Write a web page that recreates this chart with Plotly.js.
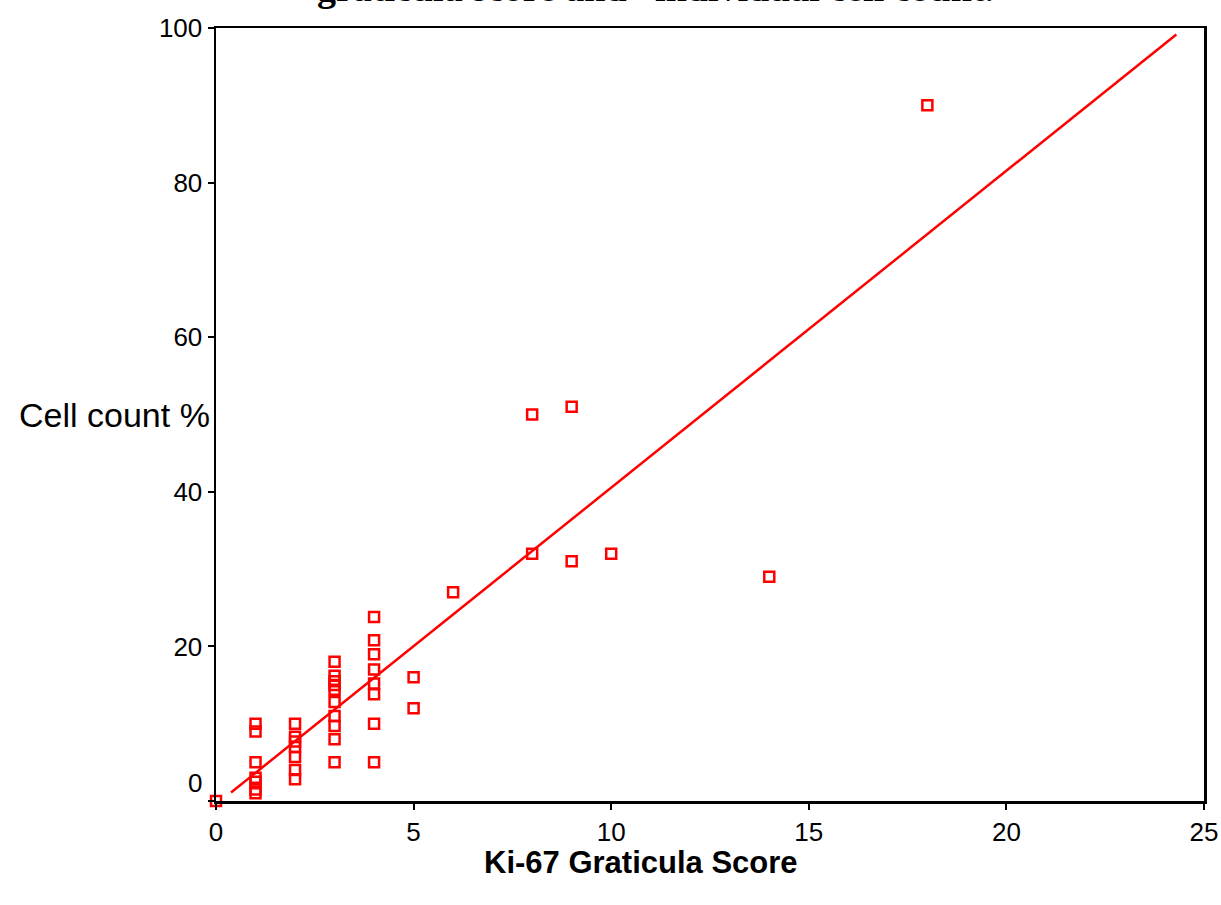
<!DOCTYPE html>
<html>
<head>
<meta charset="utf-8">
<script src="https://cdn.plot.ly/plotly-3.0.1.min.js"></script>
<style>html,body{margin:0;padding:0;background:#fff;}#chart{width:1221px;height:905px;}</style>
</head>
<body>
<div id="chart"></div>
<script>
// Ki-67 graticula score (x) vs individual cell count % (y)
const graticulaScore = [0,
  1,1,1,1,1,1,1,
  2,2,2,2,2,2,2,
  3,3,3,3,3,3,3,3,3,3,
  4,4,4,4,4,4,4,4,
  5,5,
  6,
  8,8,
  9,9,
  10,
  14,
  18];
const cellCountPct = [0,
  10,9,5,3,2.5,1.5,1,
  10,8.3,7.7,7,5.7,4,2.8,
  18,16.2,15.5,15,14.4,12.8,11,9.7,8,5,
  23.8,20.8,19,17,15.2,13.8,10,5,
  16,12,
  27,
  50,32,
  51,31,
  32,
  29,
  90];
const xTickVals = [0,5,10,15,20,25];
const yTickVals = [0,20,40,60,80,100];
const yTickText = ['','20','40','60','80','100'];
const fitXRange = [0.38, 24.3];

// least squares fit line computed from the data
const n = graticulaScore.length;
const mx = graticulaScore.reduce((a,b)=>a+b,0)/n;
const my = cellCountPct.reduce((a,b)=>a+b,0)/n;
let sxy = 0, sxx = 0;
for (let i=0;i<n;i++){ sxy += (graticulaScore[i]-mx)*(cellCountPct[i]-my); sxx += (graticulaScore[i]-mx)**2; }
const slope = sxy/sxx, intercept = my - slope*mx;
const fitY = fitXRange.map(x => intercept + slope*x);

const red = '#ff0000';
const traces = [
  {x: fitXRange, y: fitY, mode:'lines', line:{color:red, width:2.5}, hoverinfo:'skip', showlegend:false, cliponaxis:false},
  {x: graticulaScore, y: cellCountPct, mode:'markers', showlegend:false, cliponaxis:false,
   marker:{symbol:'square-open', size:10, color:red, line:{color:red, width:2.5}}}
];

const font = 'Liberation Sans, Arial, sans-serif';
const layout = {
  width:1221, height:905,
  margin:{l:216, r:17, t:28, b:104},
  paper_bgcolor:'#fff', plot_bgcolor:'#fff',
  showlegend:false,
  xaxis:{range:[0,25], tickvals:xTickVals, ticks:'outside', ticklen:6, tickwidth:2, tickcolor:'#000',
    showline:true, linecolor:'#000', linewidth:2.5, mirror:true, showgrid:false, zeroline:false,
    tickfont:{family:font, size:26, color:'#000'}},
  yaxis:{range:[0,100], tickvals:yTickVals, ticktext:yTickText, ticks:'outside', ticklen:6, tickwidth:2, tickcolor:'#000',
    showline:true, linecolor:'#000', linewidth:2.5, mirror:true, showgrid:false, zeroline:false,
    tickfont:{family:font, size:26, color:'#000'}},
  annotations:[
    {text:'graticula score and   individual cell count.', xref:'paper', yref:'paper', x:0.445, y:1.052,
     xanchor:'center', yanchor:'middle', showarrow:false,
     font:{family:'Liberation Serif, Times New Roman, serif', size:38, color:'#000', weight:'bold'}},
    {text:'Cell count %', xref:'paper', yref:'paper', x:0, y:0.5, xanchor:'right', yanchor:'middle', xshift:-4,
     showarrow:false, font:{family:font, size:34, color:'#000'}},
    {text:'Ki-67 Graticula Score', xref:'paper', yref:'paper', x:0.43, y:0, yshift:-61, xanchor:'center', yanchor:'middle',
     showarrow:false, font:{family:font, size:31, color:'#000', weight:'bold'}},
    {text:'0', xref:'paper', yref:'y', x:0, y:2.3, xanchor:'right', yanchor:'middle', xshift:-12,
     showarrow:false, font:{family:font, size:26, color:'#000'}}
  ]
};
Plotly.newPlot('chart', traces, layout, {displayModeBar:false, staticPlot:true});
</script>
</body>
</html>
